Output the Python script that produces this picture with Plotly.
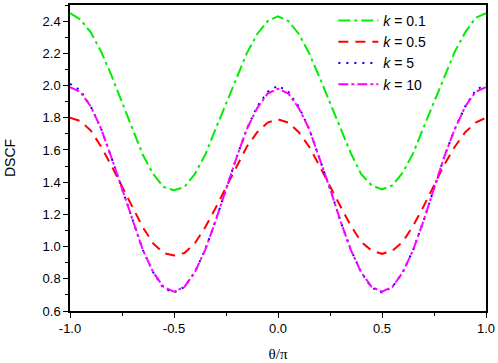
import plotly.graph_objects as go

theta = [round(-1 + 0.05 * i, 2) for i in range(41)]

k01 = [2.45, 2.41, 2.33, 2.21, 2.06, 1.90, 1.73, 1.57, 1.45, 1.37, 1.35,
       1.37, 1.45, 1.57, 1.73, 1.89, 2.05, 2.20, 2.32, 2.40, 2.43,
       2.40, 2.32, 2.20, 2.05, 1.89, 1.73, 1.58, 1.45, 1.38, 1.355,
       1.38, 1.46, 1.58, 1.74, 1.90, 2.06, 2.21, 2.33, 2.42, 2.45]
k05 = [1.80, 1.78, 1.72, 1.62, 1.50, 1.37, 1.24, 1.12, 1.02, 0.96, 0.945,
       0.96, 1.02, 1.12, 1.24, 1.37, 1.50, 1.62, 1.71, 1.77, 1.79,
       1.77, 1.71, 1.62, 1.50, 1.37, 1.25, 1.13, 1.03, 0.975, 0.955,
       0.975, 1.03, 1.13, 1.25, 1.38, 1.51, 1.62, 1.71, 1.77, 1.80]
k5 = [2.01, 1.97, 1.87, 1.73, 1.55, 1.36, 1.16, 0.98, 0.84, 0.74, 0.715,
      0.75, 0.84, 0.98, 1.16, 1.36, 1.55, 1.73, 1.87, 1.96, 2.00,
      1.96, 1.87, 1.73, 1.55, 1.36, 1.16, 0.98, 0.84, 0.745, 0.715,
      0.75, 0.84, 0.98, 1.16, 1.36, 1.56, 1.73, 1.87, 1.97, 2.01]
k10 = [1.99, 1.96, 1.87, 1.73, 1.55, 1.36, 1.16, 0.98, 0.84, 0.75, 0.72,
       0.75, 0.84, 0.98, 1.16, 1.36, 1.55, 1.73, 1.86, 1.95, 1.98,
       1.95, 1.86, 1.73, 1.55, 1.36, 1.16, 0.98, 0.84, 0.75, 0.72,
       0.75, 0.84, 0.98, 1.16, 1.36, 1.56, 1.73, 1.87, 1.96, 1.99]

x_tickvals = [-1.0, -0.5, 0.0, 0.5, 1.0]
x_ticktext = ["-1.0", "-0.5", "0.0", "0.5", "1.0"]

labels = ["<i>k</i> = 0.1", "<i>k</i> = 0.5", "<i>k</i> = 5", "<i>k</i> = 10"]
series = [k01, k05, k5, k10]
colors = ["#00ee00", "#ff0000", "#0000ff", "#ff00ff"]
dashes = ["12px,4px,3px,4px", "10px,7px", "2px,6px", "10px,3px,3px,3px"]

fig = go.Figure()
for lab, ys, c, d in zip(labels, series, colors, dashes):
    fig.add_trace(go.Scatter(x=theta, y=ys, mode="lines", name=lab,
                             line=dict(color=c, width=2, dash=d)))

axis_common = dict(showgrid=False, zeroline=False, showline=True, linecolor="black",
                   linewidth=1.5, mirror=True, ticks="outside", ticklen=5,
                   tickwidth=1.2, tickcolor="black",
                   tickfont=dict(family="Liberation Sans, Arial", size=13, color="black"))

fig.update_xaxes(range=[-1, 1], tickvals=x_tickvals, ticktext=x_ticktext,
                 minor=dict(dtick=0.25, tick0=-1, ticks="outside", ticklen=3, tickcolor="black"),
                 title=dict(text="θ/π", font=dict(family="Liberation Serif, Times New Roman",
                                                   size=15, color="black"), standoff=13),
                 **axis_common)
fig.update_yaxes(range=[0.6, 2.5], dtick=0.2, tick0=0.6, tickformat=".1f",
                 minor=dict(dtick=0.1, ticks="outside", ticklen=3, tickcolor="black"),
                 title=dict(text="DSCF", font=dict(family="Liberation Sans, Arial",
                                                    size=14, color="black"), standoff=24),
                 **axis_common)

fig.update_layout(
    width=498, height=363,
    margin=dict(l=70, r=10, t=3, b=51),
    plot_bgcolor="white", paper_bgcolor="white",
    legend=dict(x=0.633, y=1.0, xanchor="left", yanchor="top",
                bgcolor="rgba(0,0,0,0)", borderwidth=0,
                font=dict(family="Liberation Sans, Arial", size=14, color="black"),
                itemwidth=40, tracegroupgap=0),
)

fig.write_html("out.html", config={"displayModeBar": False},
               post_script="document.body.style.margin='0';")
